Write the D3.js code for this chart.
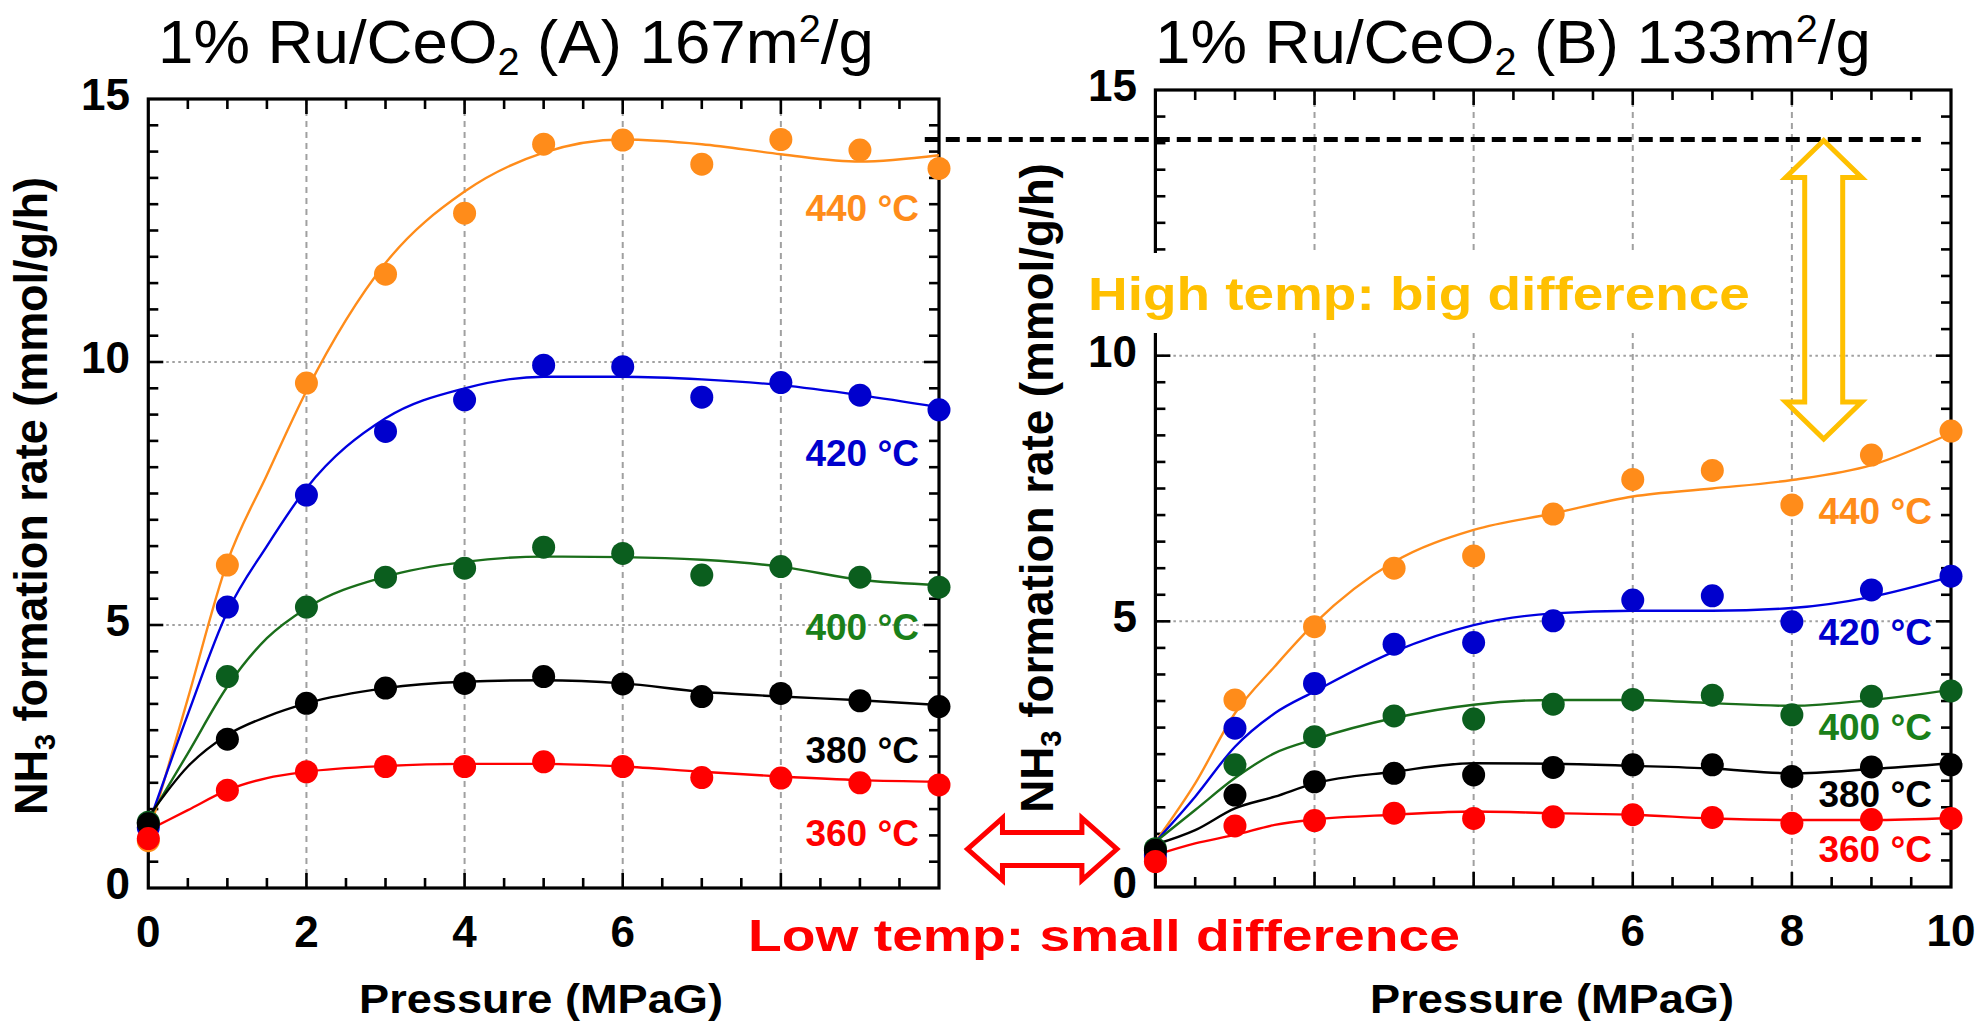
<!DOCTYPE html>
<html><head><meta charset="utf-8">
<script src="https://cdn.jsdelivr.net/npm/d3@7"></script>
<style>body{margin:0;background:#fff}svg{display:block}</style>
</head><body>
<svg id="chart" width="1981" height="1022"></svg>
<script>
// ---------------- DATA ----------------
const pressures = [0,1,2,3,4,5,6,7,8,9,10];
const fitPressures = [0,0.5,1,1.5,2,3,4,5,6,7,8,9,10];
const tempLabels = ["440 °C","420 °C","400 °C","380 °C","360 °C"];
const xTicksA = [0,2,4,6];
const xTicksB = [6,8,10];
const yTicks = [0,5,10,15];

// Catalyst A (167 m2/g) measured rates
const A_440 = [0.90,6.14,9.60,11.67,12.83,14.14,14.22,13.76,14.23,14.03,13.68];
const A_420 = [1.15,5.34,7.47,8.68,9.28,9.94,9.91,9.33,9.61,9.37,9.09];
const A_400 = [1.25,4.02,5.34,5.91,6.08,6.48,6.36,5.95,6.11,5.91,5.72];
const A_380 = [1.22,2.83,3.51,3.80,3.89,4.02,3.88,3.64,3.70,3.56,3.45];
const A_360 = [0.94,1.86,2.21,2.31,2.31,2.40,2.31,2.10,2.09,2.00,1.96];
// Catalyst A fitted curves (read at fitPressures)
const A_440_fit = [1.0,3.6,6.2,7.85,9.45,11.88,13.24,13.98,14.23,14.14,13.95,13.81,13.93];
const A_420_fit = [1.2,3.3,5.25,6.5,7.6,8.93,9.5,9.72,9.72,9.67,9.56,9.37,9.14];
const A_400_fit = [1.3,2.56,3.83,4.75,5.32,5.92,6.2,6.3,6.29,6.24,6.11,5.86,5.76];
const A_380_fit = [1.35,2.31,2.91,3.26,3.51,3.80,3.92,3.95,3.89,3.73,3.64,3.57,3.48];
const A_360_fit = [1.1,1.48,1.86,2.09,2.21,2.32,2.36,2.36,2.31,2.21,2.12,2.05,2.02];

// Catalyst B (133 m2/g) measured rates
const B_440 = [0.55,3.52,4.90,6.00,6.23,7.02,7.67,7.84,7.19,8.13,8.58];
const B_420 = [0.60,2.99,3.83,4.57,4.60,5.01,5.40,5.48,4.99,5.59,5.85];
const B_400 = [0.72,2.30,2.83,3.22,3.16,3.44,3.53,3.61,3.24,3.59,3.69];
const B_380 = [0.69,1.73,1.98,2.14,2.11,2.25,2.30,2.30,2.08,2.26,2.30];
const B_360 = [0.48,1.15,1.25,1.39,1.29,1.32,1.36,1.31,1.20,1.27,1.29];
// Catalyst B fitted curves
const B_440_fit = [0.85,1.95,3.27,4.15,4.96,6.12,6.72,7.03,7.35,7.50,7.66,7.94,8.54];
const B_420_fit = [0.85,1.70,2.64,3.27,3.68,4.43,4.93,5.15,5.20,5.20,5.25,5.46,5.84];
const B_400_fit = [0.85,1.45,2.05,2.52,2.78,3.18,3.43,3.52,3.52,3.46,3.41,3.52,3.71];
const B_380_fit = [0.80,1.07,1.48,1.70,1.95,2.17,2.33,2.32,2.28,2.23,2.14,2.22,2.33];
const B_360_fit = [0.60,0.82,0.98,1.17,1.27,1.36,1.42,1.39,1.36,1.29,1.26,1.26,1.30];

// ---------------- STYLE / LAYOUT ----------------
const markerColors = ["#FF8C1A","#0000CD","#0B5E1E","#000000","#FF0000"];
const lineColors   = ["#FF8C1A","#0000E0","#1A6E1A","#000000","#FF0000"];
const labelColors  = ["#FF8C1A","#0000CD","#1A801A","#000000","#FF0000"];
const FONT = "'Liberation Sans', Arial, sans-serif";

const svg = d3.select("#chart");

function fitText(sel, x, y, w){
  const bb = sel.node().getBBox();
  const sx = w / bb.width;
  sel.attr("transform", `translate(${x},${y}) scale(${sx},1)`);
}

const panels = [
  { x: d3.scaleLinear([0,10],[148.3,939]), y: d3.scaleLinear([0,15],[888,99]),
    series:[A_440,A_420,A_400,A_380,A_360], fits:[A_440_fit,A_420_fit,A_400_fit,A_380_fit,A_360_fit],
    xTicks:xTicksA, labelX: 919, labelAt:[12.93,8.27,4.96,2.62,1.05],
    title:["1% Ru/CeO","2"," (A) 167m","2","/g"], titleX:158, yLabelX:47, yLabelY:496, yLabelW:638, xLabelCx:541, yTickRight:130 },
  { x: d3.scaleLinear([0,10],[1155.4,1951]), y: d3.scaleLinear([0,15],[887,90]),
    series:[B_440,B_420,B_400,B_380,B_360], fits:[B_440_fit,B_420_fit,B_400_fit,B_380_fit,B_360_fit],
    xTicks:xTicksB, labelX: 1932, labelAt:[7.08,4.80,3.01,1.75,0.72],
    title:["1% Ru/CeO","2"," (B) 133m","2","/g"], titleX:1155, yLabelX:1053, yLabelY:488, yLabelW:650, xLabelCx:1552, yTickRight:1137 }
];

panels.forEach((P) => {
  const g = svg.append("g");
  const [x0,x1] = P.x.range(), [y0,y1] = P.y.range(); // y0 bottom, y1 top

  // grid
  [2,4,6,8].forEach(p => g.append("line")
    .attr("x1",P.x(p)).attr("x2",P.x(p)).attr("y1",y1).attr("y2",y0)
    .attr("stroke","#a0a0a0").attr("stroke-width",2).attr("stroke-dasharray","6,5"));
  [5,10].forEach(v => g.append("line")
    .attr("x1",x0).attr("x2",x1).attr("y1",P.y(v)).attr("y2",P.y(v))
    .attr("stroke","#a0a0a0").attr("stroke-width",2).attr("stroke-dasharray","2.5,3.5"));

  // ticks (inward, all sides)
  const tk = g.append("g").attr("stroke","#000").attr("stroke-width",2.6);
  d3.range(0.5,10,0.5).forEach(p => {
    const L = (p % 2 === 0) ? 15 : 10;
    tk.append("line").attr("x1",P.x(p)).attr("x2",P.x(p)).attr("y1",y0).attr("y2",y0-L);
    tk.append("line").attr("x1",P.x(p)).attr("x2",P.x(p)).attr("y1",y1).attr("y2",y1+L);
  });
  d3.range(0.5,15,0.5).forEach(v => {
    const L = (v % 5 === 0) ? 15 : 10;
    tk.append("line").attr("x1",x0).attr("x2",x0+L).attr("y1",P.y(v)).attr("y2",P.y(v));
    tk.append("line").attr("x1",x1).attr("x2",x1-L).attr("y1",P.y(v)).attr("y2",P.y(v));
  });
  g.append("rect").attr("x",x0).attr("y",y1).attr("width",x1-x0).attr("height",y0-y1)
    .attr("fill","none").attr("stroke","#000").attr("stroke-width",3.2);

  // tick labels
  g.selectAll(null).data(yTicks).join("text")
    .attr("x",P.yTickRight).attr("y",d=>P.y(d)+11).attr("text-anchor","end")
    .attr("font-family",FONT).attr("font-weight","bold").attr("font-size",44).text(d=>d);
  g.selectAll(null).data(P.xTicks).join("text")
    .attr("x",d=>P.x(d)).attr("y",y0+59).attr("text-anchor","middle")
    .attr("font-family",FONT).attr("font-weight","bold").attr("font-size",44).text(d=>d);

  // series: fit curves then markers
  const line = d3.line().x((d,i)=>P.x(fitPressures[i])).y(d=>P.y(d)).curve(d3.curveMonotoneX);
  P.series.forEach((s,k) => {
    g.append("path").attr("d",line(P.fits[k])).attr("fill","none")
      .attr("stroke",lineColors[k]).attr("stroke-width",2.4);
  });
  P.series.forEach((s,k) => {
    g.selectAll(null).data(s).join("circle")
      .attr("cx",(d,i)=>P.x(pressures[i])).attr("cy",d=>P.y(d)).attr("r",11.5)
      .attr("fill",markerColors[k]);
  });

  // temperature labels
  tempLabels.forEach((t,k) => g.append("text")
    .attr("x",P.labelX).attr("y",P.y(P.labelAt[k])+13).attr("text-anchor","end")
    .attr("font-family",FONT).attr("font-weight","bold").attr("font-size",37)
    .attr("fill",labelColors[k]).text(t));

  // title
  const tt = g.append("text").attr("font-family",FONT).attr("font-size",61).attr("fill","#000");
  tt.append("tspan").text(P.title[0]);
  tt.append("tspan").attr("font-size",38).attr("dy",12).text(P.title[1]);
  tt.append("tspan").attr("dy",-12).text(P.title[2]);
  tt.append("tspan").attr("font-size",38).attr("dy",-21).text(P.title[3]);
  tt.append("tspan").attr("dy",21).text(P.title[4]);
  fitText(tt, P.titleX, 63, 716);

  // axis titles
  const xl = g.append("text").attr("font-family",FONT).attr("font-weight","bold").attr("font-size",40)
    .attr("text-anchor","middle").text("Pressure (MPaG)");
  fitText(xl, P.xLabelCx, 1013, 364);

  const yg = g.append("g").attr("transform",`translate(${P.yLabelX},${P.yLabelY}) rotate(-90)`);
  const yl = yg.append("text").attr("font-family",FONT).attr("font-weight","bold").attr("font-size",47)
    .attr("text-anchor","middle");
  yl.append("tspan").text("NH");
  yl.append("tspan").attr("font-size",30).attr("dy",8).text("3");
  yl.append("tspan").attr("dy",-8).text(" formation rate (mmol/g/h)");
  fitText(yl, 0, 0, P.yLabelW);
});

// ---------------- ANNOTATIONS ----------------
const PA = panels[0], PB = panels[1];
const refLevel = d3.max(A_440);            // max rate of catalyst A
const refY = PA.y(refLevel);
svg.append("line").attr("x1",PA.x(9.82)).attr("x2",PB.x(9.62)).attr("y1",refY).attr("y2",refY)
  .attr("stroke","#000").attr("stroke-width",5).attr("stroke-dasharray","14,7");

// "High temp" text with white backing
svg.append("rect").attr("x",1083).attr("y",253).attr("width",674).attr("height",80).attr("fill","#fff");
const ht = svg.append("text").attr("font-family",FONT).attr("font-weight","bold").attr("font-size",46)
  .attr("fill","#FFC000").text("High temp: big difference");
fitText(ht, 1088, 310, 662);

// vertical yellow double arrow
function vArrow(cx, yTop, yBot, hw, sw, hl){
  return `M${cx},${yTop} L${cx+hw},${yTop+hl} L${cx+sw},${yTop+hl} L${cx+sw},${yBot-hl} L${cx+hw},${yBot-hl}
    L${cx},${yBot} L${cx-hw},${yBot-hl} L${cx-sw},${yBot-hl} L${cx-sw},${yTop+hl} L${cx-hw},${yTop+hl} Z`;
}
svg.append("path").attr("d",vArrow(PB.x(8.4), refY+1, PB.y(8.43), 38, 19, 37))
  .attr("fill","none").attr("stroke","#FFC000").attr("stroke-width",5).attr("stroke-linejoin","miter");

// horizontal red double arrow
function hArrow(xL, xR, cy, hh, sh, hl){
  return `M${xL},${cy} L${xL+hl},${cy-hh} L${xL+hl},${cy-sh} L${xR-hl},${cy-sh} L${xR-hl},${cy-hh}
    L${xR},${cy} L${xR-hl},${cy+hh} L${xR-hl},${cy+sh} L${xL+hl},${cy+sh} L${xL+hl},${cy+hh} Z`;
}
svg.append("path").attr("d",hArrow(PA.x(10.36), PA.x(12.25), PA.y(0.74), 31, 16.5, 35))
  .attr("fill","none").attr("stroke","#FF0000").attr("stroke-width",5);

const lt = svg.append("text").attr("font-family",FONT).attr("font-weight","bold").attr("font-size",44)
  .attr("fill","#FF0000").text("Low temp: small difference");
fitText(lt, 748, 951, 712);
</script>
</body></html>
